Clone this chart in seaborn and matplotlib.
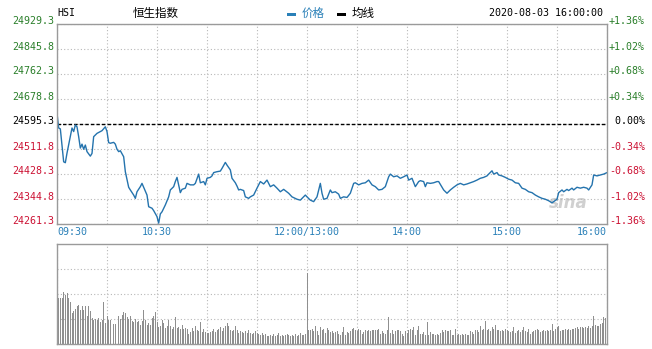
import matplotlib
matplotlib.use("Agg")
import matplotlib.pyplot as plt
import seaborn as sns
import numpy as np
import pandas as pd
from matplotlib.patches import Rectangle
from matplotlib.transforms import offset_copy, blended_transform_factory

# ---------------- data ----------------
prev_close = 24595.3
price_ticks = [24929.3, 24845.8, 24762.3, 24678.8, 24595.3, 24511.8, 24428.3, 24344.8, 24261.3]
pct_labels = ["+1.36%", "+1.02%", "+0.68%", "+0.34%", " 0.00%", "-0.34%", "-0.68%", "-1.02%", "-1.36%"]
time_labels = ["09:30", "10:30", "12:00/13:00", "14:00", "15:00", "16:00"]
time_label_minutes = [0, 60, 150, 210, 270, 330]

# minutes since 09:30 (lunch break removed)
minutes = [
    0, 1, 2, 4, 5, 6, 8, 9, 10, 11,
    12, 13, 14, 15, 16, 17, 18, 20, 21, 22,
    24, 26, 27, 29, 30, 31, 32, 34, 35, 36,
    37, 38, 40, 41, 43, 44, 46, 47, 48, 50,
    51, 52, 54, 55, 57, 58, 60, 61, 62, 63,
    65, 67, 68, 70, 71, 72, 74, 75, 77, 78,
    80, 82, 83, 85, 86, 88, 89, 90, 92, 93,
    94, 96, 98, 99, 101, 102, 104, 105, 107, 108,
    109, 110, 112, 113, 115, 116, 118, 120, 122, 124,
    126, 128, 130, 132, 134, 136, 139, 141, 144, 146,
    149, 150, 152, 154, 156, 158, 159, 160, 162, 164,
    165, 167, 169, 170, 172, 174, 176, 178, 179, 181,
    183, 185, 187, 189, 191, 193, 195, 197, 199, 200,
    202, 204, 206, 208, 210, 211, 213, 215, 217, 218,
    220, 221, 222, 224, 226, 228, 229, 231, 232, 234,
    236, 238, 240, 242, 244, 246, 248, 250, 252, 254,
    256, 258, 259, 261, 262, 264, 265, 267, 269, 271,
    273, 275, 277, 279, 281, 283, 285, 287, 289, 291,
    293, 295, 297, 298, 300, 301, 303, 304, 306, 307,
    309, 310, 312, 314, 316, 318, 319, 321, 322, 324,
    326, 328, 330,
]
prices = [
    24631, 24582, 24579, 24469, 24466, 24498, 24553, 24582, 24570, 24592,
    24586, 24553, 24515, 24528, 24511, 24525, 24503, 24488, 24497, 24553,
    24564, 24570, 24573, 24586, 24570, 24533, 24531, 24534, 24528, 24511,
    24503, 24506, 24486, 24436, 24384, 24375, 24358, 24347, 24369, 24386,
    24397, 24384, 24358, 24319, 24314, 24306, 24286, 24264, 24295, 24302,
    24325, 24352, 24375, 24386, 24403, 24417, 24366, 24377, 24381, 24397,
    24392, 24392, 24397, 24428, 24399, 24403, 24392, 24414, 24417, 24422,
    24433, 24436, 24438, 24447, 24467, 24458, 24442, 24414, 24399, 24388,
    24375, 24377, 24373, 24352, 24347, 24352, 24358, 24381, 24403, 24395,
    24408, 24386, 24392, 24381, 24369, 24377, 24364, 24352, 24344, 24341,
    24358, 24352, 24341, 24336, 24352, 24397, 24364, 24344, 24347, 24375,
    24366, 24369, 24361, 24347, 24352, 24350, 24364, 24397, 24399, 24392,
    24397, 24399, 24408, 24392, 24386, 24375, 24377, 24386, 24419, 24428,
    24419, 24422, 24414, 24419, 24425, 24408, 24414, 24386, 24403, 24406,
    24403, 24386, 24399, 24397, 24399, 24403, 24403, 24384, 24375, 24364,
    24375, 24384, 24392, 24397, 24392, 24395, 24399, 24403, 24408, 24414,
    24417, 24422, 24428, 24439, 24428, 24433, 24425, 24422, 24417, 24411,
    24408, 24399, 24397, 24381, 24377, 24369, 24366, 24358, 24352, 24347,
    24344, 24339, 24332, 24336, 24344, 24366, 24375, 24369, 24377, 24373,
    24381, 24375, 24384, 24381, 24384, 24381, 24375, 24392, 24425, 24422,
    24425, 24428, 24433,
]
# per-minute volume (relative units, 0..100 = panel height)
volume = [
    58, 46, 46, 46, 52, 49, 51, 46, 42, 31,
    33, 35, 38, 39, 34, 38, 34, 38, 28, 38,
    33, 26, 24, 25, 24, 26, 22, 24, 42, 21,
    28, 24, 24, 24, 20, 20, 20, 28, 25, 29,
    32, 31, 27, 25, 28, 23, 22, 25, 22, 23,
    19, 23, 34, 24, 19, 21, 19, 26, 28, 32,
    22, 17, 18, 24, 21, 16, 18, 24, 18, 15,
    17, 27, 16, 17, 15, 19, 15, 16, 15, 10,
    12, 16, 13, 18, 14, 13, 22, 12, 15, 12,
    11, 11, 12, 13, 15, 12, 14, 15, 17, 13,
    16, 18, 21, 18, 14, 13, 14, 18, 14, 11,
    13, 12, 11, 13, 11, 14, 11, 10, 11, 13,
    11, 10, 9, 11, 9, 10, 8, 8, 9, 8,
    10, 8, 9, 11, 8, 9, 8, 9, 10, 9,
    8, 9, 8, 10, 8, 9, 11, 9, 9, 10,
    71, 14, 14, 15, 13, 18, 13, 9, 17, 14,
    15, 11, 16, 14, 12, 13, 11, 12, 13, 10,
    9, 12, 17, 9, 12, 11, 13, 15, 16, 14,
    13, 15, 14, 10, 12, 14, 13, 14, 13, 14,
    14, 14, 14, 15, 10, 13, 11, 10, 14, 27,
    11, 14, 10, 13, 14, 14, 13, 10, 8, 13,
    11, 14, 15, 14, 17, 9, 14, 18, 10, 10,
    12, 9, 22, 9, 12, 10, 10, 9, 10, 9,
    11, 14, 12, 14, 13, 13, 14, 9, 9, 15,
    9, 10, 9, 10, 9, 10, 9, 9, 13, 12,
    10, 14, 14, 12, 18, 14, 15, 23, 14, 15,
    13, 17, 15, 19, 14, 14, 13, 14, 13, 15,
    14, 13, 12, 13, 17, 11, 13, 14, 12, 14,
    17, 13, 12, 15, 10, 12, 13, 14, 15, 14,
    12, 13, 14, 13, 14, 13, 14, 20, 13, 15,
    17, 18, 13, 14, 14, 15, 14, 15, 14, 15,
    15, 16, 17, 15, 17, 17, 16, 17, 16, 18,
    16, 18, 28, 19, 18, 18, 20, 21, 27, 26,
    30,
]
vol_minutes = list(range(len(volume)))

# ---------------- style ----------------
sns.set_style("white")
plt.rcParams["font.family"] = ["DejaVu Sans Mono", "DejaVu Sans"]

W, H = 652, 349
fig = plt.figure(figsize=(W / 100, H / 100), dpi=100)
fig.patch.set_facecolor("white")

def fx(x):
    return x / W

def fy(y):
    return 1 - y / H

L, R = 57, 607
ax = fig.add_axes([fx(L), fy(224), fx(R) - fx(L), fy(24) - fy(224)])
axv = fig.add_axes([fx(L), fy(344), fx(R) - fx(L), fy(244) - fy(344)])

GREEN = "#2a7f2a"
RED = "#cc1133"
BLUE_TXT = "#2a80b8"
LINE = "#2473ad"
SPINE = "#9a9a9a"
GRID = "#b8b8b8"

for a in (ax, axv):
    for s in a.spines.values():
        s.set_color(SPINE)
        s.set_linewidth(1)
    a.set_xlim(0, 330)
    a.set_xticks(range(0, 331, 30))
    a.tick_params(length=0, labelbottom=False, labelleft=False)
    a.grid(True, color=GRID, linestyle=(0, (1, 2)), linewidth=0.8)
    a.set_axisbelow(True)
    a.set_xlabel("")
    a.set_ylabel("")

# price panel
ax.set_ylim(price_ticks[-1], price_ticks[0])
ax.set_yticks(price_ticks)
df = pd.DataFrame({"minute": minutes, "price": prices})
sns.lineplot(data=df, x="minute", y="price", ax=ax, color=LINE, linewidth=1.0,
             estimator=None, sort=True)
ax.axhline(prev_close, color="black", linestyle=(0, (2.5, 1.5)), linewidth=1.0, zorder=1.5)
ax.set_xlabel("")
ax.set_ylabel("")
ax.tick_params(length=0, labelbottom=False, labelleft=False)

tl = blended_transform_factory(ax.transAxes, ax.transData)
tl = offset_copy(tl, fig=fig, x=0, y=2.5, units="dots")
for i, (v, p) in enumerate(zip(price_ticks, pct_labels)):
    c = GREEN if v > prev_close else (RED if v < prev_close else "black")
    ax.text(-3 / (R - L), v, f"{v:.1f}", transform=tl, ha="right", va="center",
            fontsize=7.2, color=c)
    ax.text(1 + 2 / (R - L), v, p, transform=tl, ha="left", va="center",
            fontsize=7.2, color=c)

for m, lab in zip(time_label_minutes, time_labels):
    ha = "left" if m == 0 else ("right" if m == 330 else "center")
    ax.text(m, -0.016, lab, transform=blended_transform_factory(ax.transData, ax.transAxes),
            ha=ha, va="top", fontsize=7.2, color=BLUE_TXT)

# watermark
ax.text(0.965, 0.06, "sina", transform=ax.transAxes, ha="right", va="bottom",
        fontsize=12, fontweight="bold", style="italic", color="#d0d0d0",
        family="DejaVu Sans", zorder=0.5)

# volume panel
vdf = pd.DataFrame({"minute": vol_minutes, "volume": volume})
sns.barplot(data=vdf, x="minute", y="volume", ax=axv, native_scale=True,
            color="#8f8f8f", width=0.6, linewidth=0, errorbar=None, saturation=1)
axv.set_xlim(0, 330)
axv.set_ylim(0, 100)
axv.set_yticks([25, 50, 75])
axv.set_xlabel("")
axv.set_ylabel("")
axv.tick_params(length=0, labelbottom=False, labelleft=False)

# header
fig.text(fx(57), fy(13), "HSI", ha="left", va="center", fontsize=7.2, color="black")
fig.text(fx(133), fy(13), "恒生指数", ha="left", va="center", fontsize=8.3, color="black",
         family=["Noto Sans CJK SC", "DejaVu Sans"])
fig.add_artist(Rectangle((fx(287), fy(16)), fx(296) - fx(287), fy(13) - fy(16),
                         transform=fig.transFigure, color="#2a80b8", lw=0))
fig.text(fx(302), fy(13), "价格", ha="left", va="center", fontsize=8.3, color="#2a80b8",
         family=["Noto Sans CJK SC", "DejaVu Sans"])
fig.add_artist(Rectangle((fx(337), fy(16)), fx(346) - fx(337), fy(13) - fy(16),
                         transform=fig.transFigure, color="black", lw=0))
fig.text(fx(352), fy(13), "均线", ha="left", va="center", fontsize=8.3, color="black",
         family=["Noto Sans CJK SC", "DejaVu Sans"])
fig.text(fx(603), fy(13), "2020-08-03 16:00:00", ha="right", va="center",
         fontsize=7.2, color="black")

fig.savefig("out.png", dpi=100, facecolor="white")
